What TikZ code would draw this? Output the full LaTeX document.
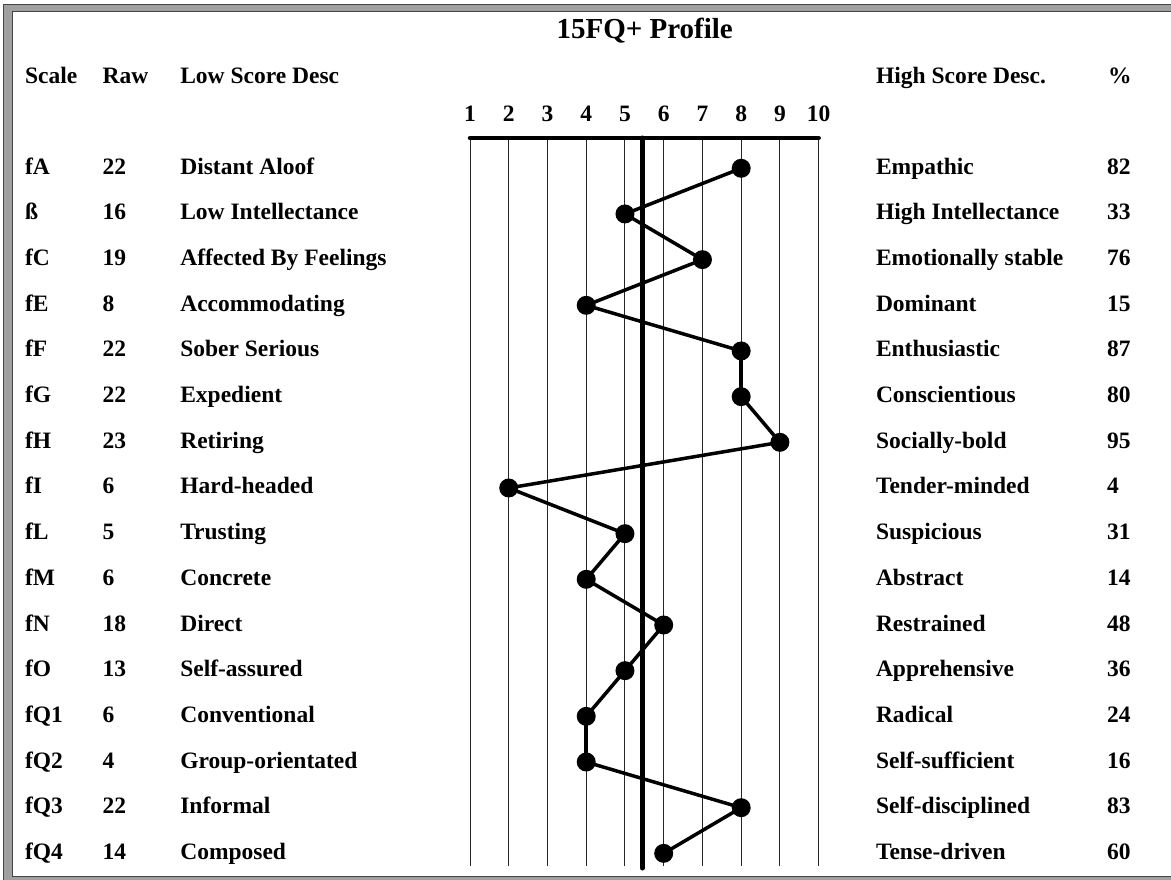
\documentclass[tikz,border=0pt]{standalone}
\usepackage{fontspec}
\setmainfont{Liberation Serif}
\definecolor{bandgray}{RGB}{160,160,160}
\definecolor{edgegray}{RGB}{70,70,70}
\begin{document}
\begin{tikzpicture}[x=1pt,y=-1pt,
  every node/.style={inner sep=0pt,outer sep=0pt},
  txt/.style={anchor=base west,font=\fontsize{23.5}{28}\selectfont\bfseries},
  num/.style={anchor=base,font=\fontsize{23.5}{28}\selectfont\bfseries},
  ttl/.style={anchor=base,font=\fontsize{29}{34}\selectfont\bfseries},
  dot/.style={circle,fill=black,minimum size=19pt,inner sep=0pt},
  conn/.style={line width=3.5pt,line cap=round,line join=round},
  gridline/.style={line width=1pt,draw=black!85},
  axis/.style={line width=4.5pt,line cap=round}]
\useasboundingbox (0,0) rectangle (1171,880);
% frame
\fill[bandgray,even odd rule] (3,4.5) rectangle (1200,900) (12,12) rectangle (1190,876);
\draw[edgegray,line width=1pt] (3,4.5) rectangle (1200,900);
\draw[edgegray,line width=1pt] (12,12) rectangle (1190,876);
% title and headers
\node[ttl] (title) at (644.7,38.5) {15FQ+ Profile};
\node[txt] (hscale) at (25,84) {Scale};
\node[txt] (hraw) at (102.7,84) {Raw};
\node[txt] (hlow) at (180.3,84) {Low Score Desc};
\node[txt] (hhigh) at (876,84) {High Score Desc.};
\node[txt] (hpct) at (1108,84) {\%};
% scale numbers and grid
\foreach \k in {1,...,10}{
  \node[num] (n\k) at ({470+(\k-1)*38.74},122) {\k};
  \coordinate (gt\k) at ({470+(\k-1)*38.74},138);
  \coordinate (gb\k) at ({470+(\k-1)*38.74},866);
  \draw[gridline] (gt\k) -- (gb\k);
}
\draw[axis] (gt1) -- (gt10);
\coordinate (mtop) at (642.3,138);
\coordinate (mbot) at (642.3,868);
\draw[line width=5pt,line cap=round] (mtop) -- (mbot);
% rows
\foreach \s/\r/\lo/\hi/\p/\v [count=\i from 0] in {
  fA/22/Distant Aloof/Empathic/82/8,
  ß/16/Low Intellectance/High Intellectance/33/5,
  fC/19/Affected By Feelings/Emotionally stable/76/7,
  fE/8/Accommodating/Dominant/15/4,
  fF/22/Sober Serious/Enthusiastic/87/8,
  fG/22/Expedient/Conscientious/80/8,
  fH/23/Retiring/Socially-bold/95/9,
  fI/6/Hard-headed/Tender-minded/4/2,
  fL/5/Trusting/Suspicious/31/5,
  fM/6/Concrete/Abstract/14/4,
  fN/18/Direct/Restrained/48/6,
  fO/13/Self-assured/Apprehensive/36/5,
  fQ1/6/Conventional/Radical/24/4,
  fQ2/4/Group-orientated/Self-sufficient/16/4,
  fQ3/22/Informal/Self-disciplined/83/8,
  fQ4/14/Composed/Tense-driven/60/6}{
  \node[txt] (s\i) at (25,{174.3+45.67*\i}) {\s};
  \node[txt] (r\i) at (102.7,{174.3+45.67*\i}) {\r};
  \node[txt] (lo\i) at (180.3,{174.3+45.67*\i}) {\lo};
  \node[txt] (hi\i) at (876,{174.3+45.67*\i}) {\hi};
  \node[txt] (p\i) at (1107,{174.3+45.67*\i}) {\p};
  \node[dot] (d\i) at ({470+(\v-1)*38.74},{168.3+45.67*\i}) {};
}
\foreach \i [evaluate=\i as \j using int(\i+1)] in {0,...,14}{
  \draw[conn] (d\i.center) -- (d\j.center);
}
\end{tikzpicture}
\end{document}
